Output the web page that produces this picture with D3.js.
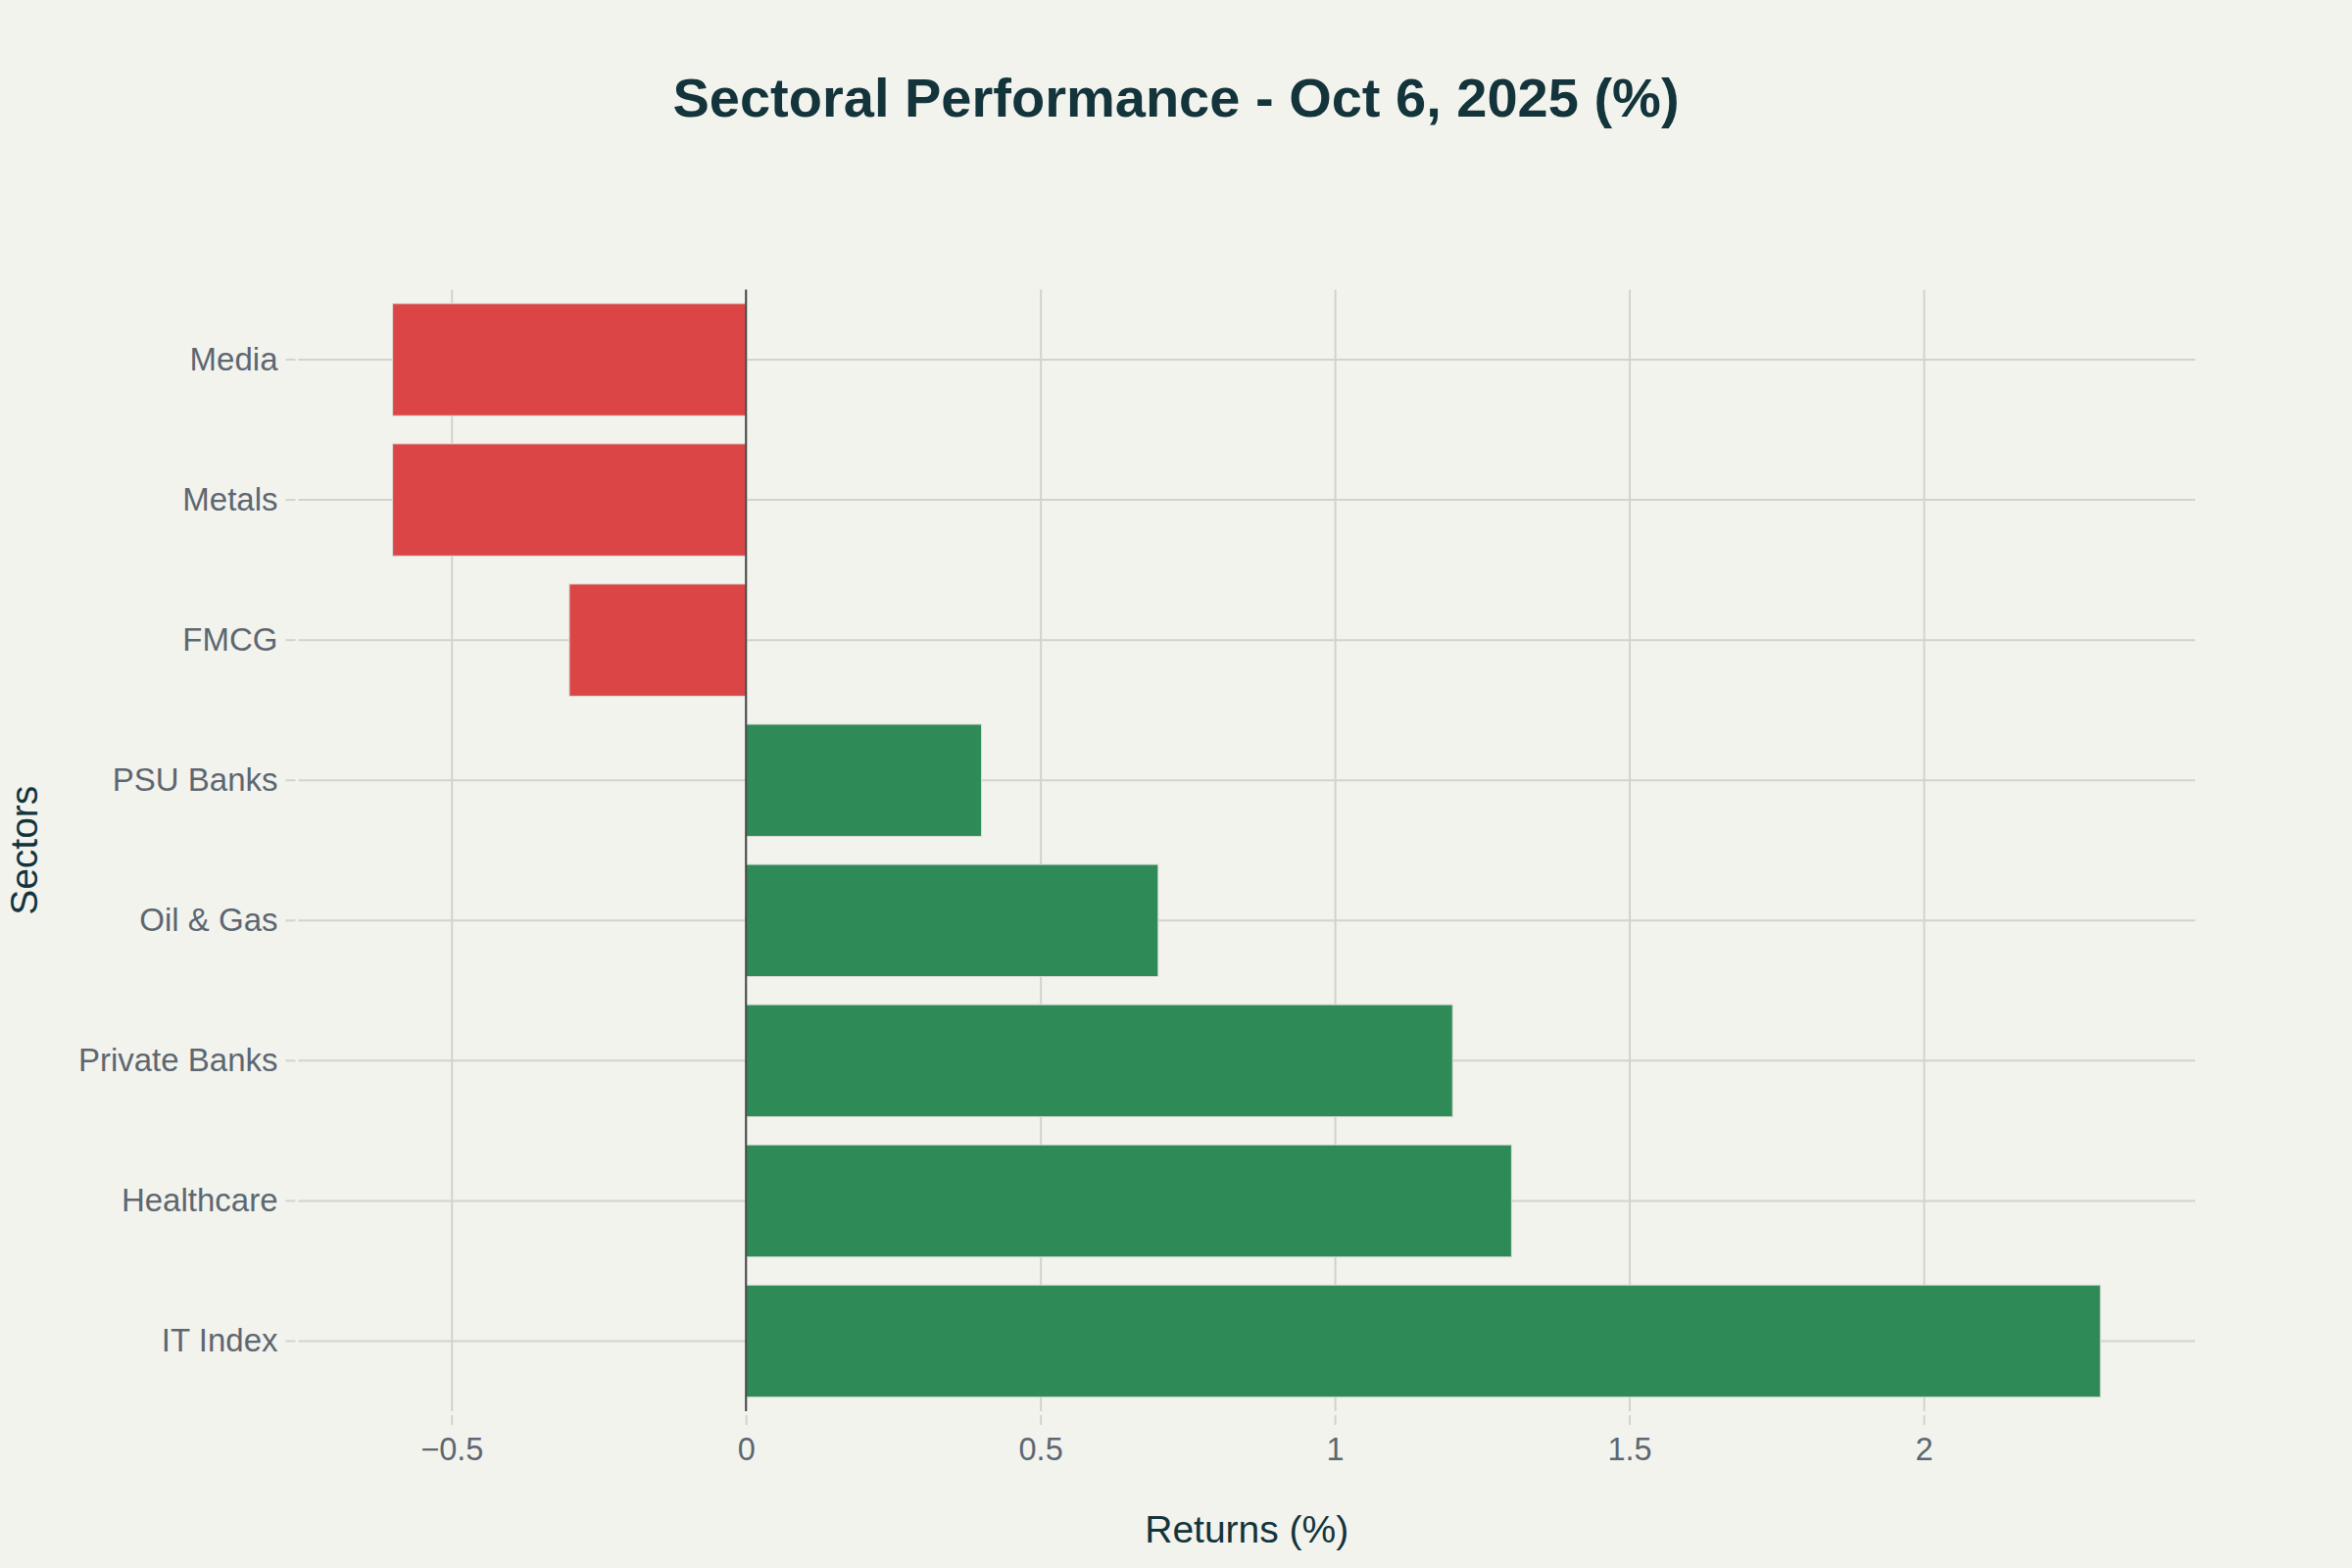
<!DOCTYPE html>
<html>
<head>
<meta charset="utf-8">
<script src="https://cdn.jsdelivr.net/npm/d3@7"></script>
<style>
  html, body { margin: 0; padding: 0; background: #f3f3ee; }
  svg { display: block; }
</style>
</head>
<body>
<script>
// ---- data ----
const sectors = ["Media", "Metals", "FMCG", "PSU Banks", "Oil & Gas", "Private Banks", "Healthcare", "IT Index"];
const returnsPct = [-0.6, -0.6, -0.3, 0.4, 0.7, 1.2, 1.3, 2.3];
const xTickValues = [-0.5, 0, 0.5, 1, 1.5, 2];
const xTickLabels = ["\u22120.5", "0", "0.5", "1", "1.5", "2"];
const titleText = "Sectoral Performance - Oct 6, 2025 (%)";
const xTitle = "Returns (%)";
const yTitle = "Sectors";

const W = 2400, H = 1600;
const plot = { left: 304.5, right: 2240, top: 295.5, bottom: 1440 };
const font = "'Liberation Sans', Arial, sans-serif";

const svg = d3.select("body").append("svg").attr("width", W).attr("height", H);
svg.append("rect").attr("width", W).attr("height", H).attr("fill", "#f3f3ee");

const x = d3.scaleLinear().domain([-0.76, 2.461]).range([plot.left, plot.right]);
const y = d3.scaleBand().domain(sectors).range([plot.top, plot.bottom]).paddingInner(0.2).paddingOuter(0.1);

// grid lines
const xGrid = d3.axisBottom(x).tickValues(xTickValues).tickSize(-(plot.bottom - plot.top)).tickFormat("");
svg.append("g").attr("transform", `translate(0,${plot.bottom})`).call(xGrid)
  .call(g => g.select(".domain").remove())
  .call(g => g.selectAll("line").attr("stroke", "#d3d3ce").attr("stroke-width", 2));

const yGrid = d3.axisLeft(y).tickSize(-(plot.right - plot.left)).tickFormat("");
svg.append("g").attr("transform", `translate(${plot.left},0)`).call(yGrid)
  .call(g => g.select(".domain").remove())
  .call(g => g.selectAll("line").attr("stroke", "#d3d3ce").attr("stroke-width", 2));

// bars
const data = sectors.map((s, i) => ({ s, v: returnsPct[i] }));
svg.append("g").selectAll("rect").data(data).join("rect")
  .attr("x", d => x(Math.min(0, d.v)))
  .attr("width", d => Math.abs(x(d.v) - x(0)))
  .attr("y", d => y(d.s))
  .attr("height", y.bandwidth())
  .attr("fill", d => d.v < 0 ? "#db4545" : "#2e8b57")
  .attr("stroke", "#dcdcd6").attr("stroke-width", 1);

// zero line
svg.append("line")
  .attr("x1", x(0)).attr("x2", x(0))
  .attr("y1", plot.top).attr("y2", plot.bottom)
  .attr("stroke", "#4a4a4a").attr("stroke-width", 2);

// x axis ticks & labels
const xAxis = d3.axisBottom(x).tickValues(xTickValues)
  .tickFormat((d, i) => xTickLabels[i]).tickSize(10).tickPadding(13);
svg.append("g").attr("transform", `translate(0,${plot.bottom + 4})`).call(xAxis)
  .call(g => g.select(".domain").remove())
  .call(g => g.selectAll("line").attr("stroke", "#d3d3ce").attr("stroke-width", 2))
  .call(g => g.selectAll("text").attr("fill", "#5d6770").attr("font-size", 32.5).attr("font-family", font));

// y axis ticks & labels
const yAxis = d3.axisLeft(y).tickSize(10).tickPadding(8);
svg.append("g").attr("transform", `translate(${plot.left - 3},0)`).call(yAxis)
  .call(g => g.select(".domain").remove())
  .call(g => g.selectAll("line").attr("stroke", "#d3d3ce").attr("stroke-width", 2))
  .call(g => g.selectAll("text").attr("fill", "#5d6770").attr("font-size", 33).attr("font-family", font));

// titles
svg.append("text").attr("x", 1200).attr("y", 119).attr("text-anchor", "middle")
  .attr("font-family", font).attr("font-weight", "bold").attr("font-size", 56)
  .attr("fill", "#13343b").text(titleText);

svg.append("text").attr("x", (plot.left + plot.right) / 2).attr("y", 1574).attr("text-anchor", "middle")
  .attr("font-family", font).attr("font-size", 39).attr("fill", "#13343b").text(xTitle);

svg.append("text").attr("transform", `translate(38,${(plot.top + plot.bottom) / 2}) rotate(-90)`)
  .attr("text-anchor", "middle")
  .attr("font-family", font).attr("font-size", 39).attr("fill", "#13343b").text(yTitle);
</script>
</body>
</html>
